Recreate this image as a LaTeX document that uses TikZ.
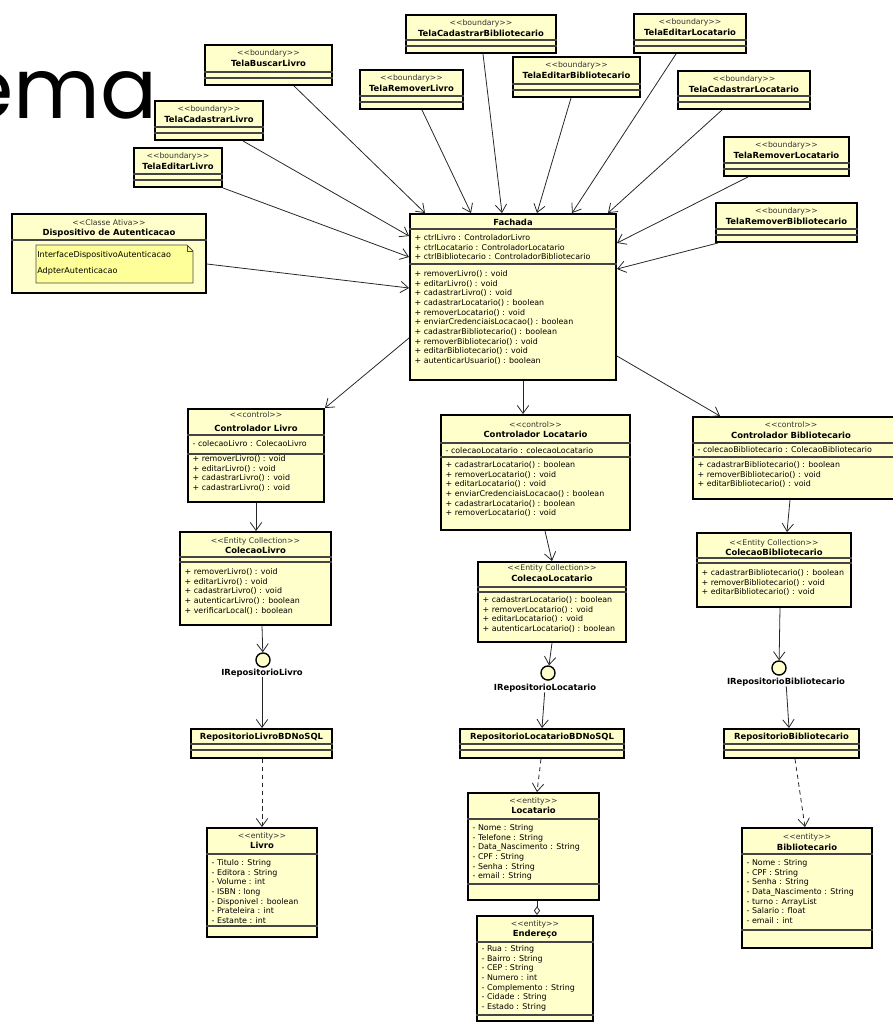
\documentclass[tikz,border=0pt]{standalone}
\usepackage{fontspec}
\setmainfont{DejaVu Sans}
\newfontfamily\titlefont{Poppins}
\usetikzlibrary{arrows.meta,fit,positioning}

\definecolor{umlyellow}{HTML}{FFFFCC}
\definecolor{noteyellow}{HTML}{FFFF99}
\definecolor{compgray}{HTML}{444444}

% stereotype brackets
\newcommand\guil[1]{<\kern0pt<#1>\kern0pt>}

\tikzset{
  classbox/.style={draw=black, line width=1.1pt, fill=umlyellow, inner sep=0pt},
  compline/.style={draw=compgray, line width=0.6pt},
  stereotxt/.style={font=\fontsize{4.4}{5}\selectfont, text=black!80, inner sep=0pt},
  nametxt/.style={font=\fontsize{4.8}{5.5}\selectfont\bfseries, inner sep=0pt},
  membertxt/.style={font=\fontsize{4.5}{5.47}\selectfont, align=left, anchor=north west, inner sep=0pt, xshift=3pt},
  notebox/.style={draw=black!70, line width=0.5pt, fill=noteyellow},
  notetxt/.style={font=\fontsize{4.6}{5.47}\selectfont, anchor=west, inner sep=0pt},
  iface/.style={circle, draw=black, line width=0.8pt, fill=umlyellow, minimum size=8pt, inner sep=0pt},
  usearrow/.style={draw=black!85, line width=0.45pt, -{Straight Barb[length=4.5pt,width=6.5pt]}},
  deparrow/.style={usearrow, dash pattern=on 2.5pt off 2pt},
  aggreg/.style={draw=black!85, line width=0.45pt, -{Diamond[open, length=5pt, width=3.5pt]}}
}

% class rectangle from corner to corner
\newcommand\umlbox[5]{\node[classbox, fit={(#2,#3) (#4,#5)}] (#1) {};}
% compartment line across a box
\newcommand\compline[2]{\draw[compline] (#1.west |- 0,#2) -- (#1.east |- 0,#2);}
% boundary class with two empty compartments
\newcommand\boundary[6]{%
  \umlbox{#1}{#2}{#3}{#4}{#5}
  \node[stereotxt] (#1-st) at (#1.north |- 0,#3+8) {\guil{boundary}};
  \node[nametxt] (#1-nm) at (#1.north |- 0,#3+18) {#6};
  \compline{#1}{#5-13}
  \compline{#1}{#5-7}}

\begin{document}
\begin{tikzpicture}[x=0.02cm, y=-0.02cm]

    \useasboundingbox (0,0) rectangle (893,1022);

    % Title (cut at the left edge)
    \node[anchor=base east, inner sep=0pt, font=\titlefont\fontsize{48}{48}\selectfont] (titulo) at (158,118) {ema};

    % Boundary classes
    \boundary{tBuscarLivro}{205}{45}{332}{85}{TelaBuscarLivro}
    \boundary{tCadastrarLivro}{155}{101}{263}{140}{TelaCadastrarLivro}
    \boundary{tEditarLivro}{134}{148}{222}{187}{TelaEditarLivro}
    \boundary{tRemoverLivro}{360}{70}{463}{109}{TelaRemoverLivro}
    \boundary{tCadastrarBib}{406}{15}{556}{53}{TelaCadastrarBibliotecario}
    \boundary{tEditarBib}{513}{57}{640}{97}{TelaEditarBibliotecario}
    \boundary{tEditarLoc}{634}{14}{746}{53}{TelaEditarLocatario}
    \boundary{tCadastrarLoc}{678}{71}{810}{109}{TelaCadastrarLocatario}
    \boundary{tRemoverLoc}{724}{137}{849}{176}{TelaRemoverLocatario}
    \boundary{tRemoverBib}{716}{203}{857}{242}{TelaRemoverBibliotecario}

    % Active class with its note
    \umlbox{disp}{12}{214}{206}{293}
    \node[stereotxt] (disp-st) at (disp.north |- 0,223) {\guil{Classe Ativa}};
    \node[nametxt] (disp-nm) at (disp.north |- 0,233) {Dispositivo de Autenticacao};
    \compline{disp}{240}
    \draw[notebox] (36,245) -- (187,245) -- (193,251) -- (193,283) -- (36,283) -- cycle;
    \draw[notebox, fill=none] (187,245) -- (187,251) -- (193,251);
    \node[notetxt] (disp-if) at (37,255) {InterfaceDispositivoAutenticacao};
    \node[notetxt] (disp-ad) at (37,271) {AdpterAutenticacao};

    % Fachada
    \umlbox{fach}{410}{214}{616}{380}
    \node[nametxt] (fach-nm) at (fach.north |- 0,222) {Fachada};
    \compline{fach}{229}
    \node[membertxt] (fach-at) at (fach.west |- 0,234.4) {+ ctrlLivro : ControladorLivro\\+ ctrlLocatario : ControladorLocatario\\+ ctrlBibliotecario : ControladorBibliotecario};
    \compline{fach}{264}
    \node[membertxt] (fach-op) at (fach.west |- 0,270.4) {+ removerLivro() : void\\+ editarLivro() : void\\+ cadastrarLivro() : void\\+ cadastrarLocatario() : boolean\\+ removerLocatario() : void\\+ enviarCredenciaisLocacao() : boolean\\+ cadastrarBibliotecario() : boolean\\+ removerBibliotecario() : void\\+ editarBibliotecario() : void\\+ autenticarUsuario() : boolean};

    % Controlador Livro
    \umlbox{ctrlLivro}{188}{409}{324}{502}
    \node[stereotxt] (ctrlLivro-st) at (ctrlLivro.north |- 0,415) {\guil{control}};
    \node[nametxt] (ctrlLivro-nm) at (ctrlLivro.north |- 0,428) {Controlador Livro};
    \compline{ctrlLivro}{435}
    \node[membertxt] (ctrlLivro-at) at (ctrlLivro.west |- 0,440.4) {- colecaoLivro : ColecaoLivro};
    \compline{ctrlLivro}{454}
    \node[membertxt] (ctrlLivro-op) at (ctrlLivro.west |- 0,455.4) {+ removerLivro() : void\\+ editarLivro() : void\\+ cadastrarLivro() : void\\+ cadastrarLivro() : void};

    % ColecaoLivro
    \umlbox{colLivro}{180}{532}{331}{625}
    \node[stereotxt] (colLivro-st) at (colLivro.north |- 0,541) {\guil{Entity Collection}};
    \node[nametxt] (colLivro-nm) at (colLivro.north |- 0,550) {ColecaoLivro};
    \compline{colLivro}{557}
    \compline{colLivro}{562}
    \node[membertxt] (colLivro-op) at (colLivro.west |- 0,568.4) {+ removerLivro() : void\\+ editarLivro() : void\\+ cadastrarLivro() : void\\+ autenticarLivro() : boolean\\+ verificarLocal() : boolean};

    % Controlador Locatario
    \umlbox{ctrlLoc}{441}{415}{630}{530}
    \node[stereotxt] (ctrlLoc-st) at (ctrlLoc.north |- 0,425) {\guil{control}};
    \node[nametxt] (ctrlLoc-nm) at (ctrlLoc.north |- 0,434) {Controlador Locatario};
    \compline{ctrlLoc}{443}
    \node[membertxt] (ctrlLoc-at) at (ctrlLoc.west |- 0,447.4) {- colecaoLocatario : colecaoLocatario};
    \compline{ctrlLoc}{457}
    \node[membertxt] (ctrlLoc-op) at (ctrlLoc.west |- 0,461.4) {+ cadastrarLocatario() : boolean\\+ removerLocatario() : void\\+ editarLocatario() : void\\+ enviarCredenciaisLocacao() : boolean\\+ cadastrarLocatario() : boolean\\+ removerLocatario() : void};

    % ColecaoLocatario
    \umlbox{colLoc}{478}{562}{626}{642}
    \node[stereotxt] (colLoc-st) at (colLoc.north |- 0,568) {\guil{Entity Collection}};
    \node[nametxt] (colLoc-nm) at (colLoc.north |- 0,578) {ColecaoLocatario};
    \compline{colLoc}{587}
    \compline{colLoc}{592}
    \node[membertxt] (colLoc-op) at (colLoc.west |- 0,596.4) {+ cadastrarLocatario() : boolean\\+ removerLocatario() : void\\+ editarLocatario() : void\\+ autenticarLocatario() : boolean};

    % Controlador Bibliotecario (runs past the right edge)
    \umlbox{ctrlBib}{693}{417}{900}{499}
    \node[stereotxt] (ctrlBib-st) at (791,425) {\guil{control}};
    \node[nametxt] (ctrlBib-nm) at (791,435) {Controlador Bibliotecario};
    \compline{ctrlBib}{443}
    \node[membertxt] (ctrlBib-at) at (ctrlBib.west |- 0,446.4) {- colecaoBibliotecario : ColecaoBibliotecario};
    \compline{ctrlBib}{457}
    \node[membertxt] (ctrlBib-op) at (ctrlBib.west |- 0,461.4) {+ cadastrarBibliotecario() : boolean\\+ removerBibliotecario() : void\\+ editarBibliotecario() : void};

    % ColecaoBibliotecario
    \umlbox{colBib}{697}{533}{851}{607}
    \node[stereotxt] (colBib-st) at (colBib.north |- 0,543) {\guil{Entity Collection}};
    \node[nametxt] (colBib-nm) at (colBib.north |- 0,552) {ColecaoBibliotecario};
    \compline{colBib}{558}
    \compline{colBib}{563}
    \node[membertxt] (colBib-op) at (colBib.west |- 0,569.4) {+ cadastrarBibliotecario() : boolean\\+ removerBibliotecario() : void\\+ editarBibliotecario() : void};

    % Interfaces (lollipops)
    \node[iface] (iLivro) at (263,660) {};
    \node[nametxt] (iLivro-lb) at (262,673) {IRepositorioLivro};
    \node[iface] (iLoc) at (548,673) {};
    \node[nametxt] (iLoc-lb) at (545,688) {IRepositorioLocatario};
    \node[iface] (iBib) at (779,668) {};
    \node[nametxt] (iBib-lb) at (786,682) {IRepositorioBibliotecario};

    % Repositories
    \umlbox{repLivro}{191}{729}{332}{758}
    \node[nametxt] (repLivro-nm) at (repLivro.north |- 0,737) {RepositorioLivroBDNoSQL};
    \compline{repLivro}{744}
    \compline{repLivro}{750}
    \umlbox{repLoc}{460}{729}{624}{758}
    \node[nametxt] (repLoc-nm) at (repLoc.north |- 0,737) {RepositorioLocatarioBDNoSQL};
    \compline{repLoc}{744}
    \compline{repLoc}{750}
    \umlbox{repBib}{724}{729}{859}{758}
    \node[nametxt] (repBib-nm) at (repBib.north |- 0,737) {RepositorioBibliotecario};
    \compline{repBib}{744}
    \compline{repBib}{750}

    % Entities
    \umlbox{livro}{207}{828}{317}{937}
    \node[stereotxt] (livro-st) at (livro.north |- 0,836) {\guil{entity}};
    \node[nametxt] (livro-nm) at (livro.north |- 0,845) {Livro};
    \compline{livro}{854}
    \node[membertxt] (livro-at) at (livro.west |- 0,859.4) {- Titulo : String\\- Editora : String\\- Volume : int\\- ISBN : long\\- Disponivel : boolean\\- Prateleira : int\\- Estante : int};
    \compline{livro}{926}

    \umlbox{locatario}{468}{793}{599}{900}
    \node[stereotxt] (locatario-st) at (locatario.north |- 0,801) {\guil{entity}};
    \node[nametxt] (locatario-nm) at (locatario.north |- 0,810) {Locatario};
    \compline{locatario}{819}
    \node[membertxt] (locatario-at) at (locatario.west |- 0,824.4) {- Nome : String\\- Telefone : String\\- Data\_Nascimento : String\\- CPF : String\\- Senha : String\\- email : String};
    \compline{locatario}{884}

    \umlbox{endereco}{477}{916}{593}{1021}
    \node[stereotxt] (endereco-st) at (endereco.north |- 0,924) {\guil{entity}};
    \node[nametxt] (endereco-nm) at (endereco.north |- 0,934) {Endereço};
    \compline{endereco}{942}
    \node[membertxt] (endereco-at) at (endereco.west |- 0,945.4) {- Rua : String\\- Bairro : String\\- CEP : String\\- Numero : int\\- Complemento : String\\- Cidade : String\\- Estado : String};
    \compline{endereco}{1015}

    \umlbox{bibliotecario}{742}{828}{872}{948}
    \node[stereotxt] (bibliotecario-st) at (bibliotecario.north |- 0,837) {\guil{entity}};
    \node[nametxt] (bibliotecario-nm) at (bibliotecario.north |- 0,847) {Bibliotecario};
    \compline{bibliotecario}{854}
    \node[membertxt] (bibliotecario-at) at (bibliotecario.west |- 0,859.4) {- Nome : String\\- CPF : String\\- Senha : String\\- Data\_Nascimento : String\\- turno : ArrayList\\- Salario : float\\- email : int};
    \compline{bibliotecario}{930}

    % Telas -> Fachada
    \draw[usearrow] (tEditarLivro.south east) -- (fach.west |- 0,257);
    \draw[usearrow] (tCadastrarLivro.south -| 243,0) -- (fach.west |- 0,236);
    \draw[usearrow] (tBuscarLivro.south -| 294,0) -- (fach.north -| 425,0);
    \draw[usearrow] (tRemoverLivro.south -| 422,0) -- (fach.north -| 471,0);
    \draw[usearrow] (tCadastrarBib.south -| 483,0) -- (fach.north -| 502,0);
    \draw[usearrow] (tEditarBib.south -| 571,0) -- (fach.north -| 537,0);
    \draw[usearrow] (tEditarLoc.south -| 676,0) -- (fach.north -| 572,0);
    \draw[usearrow] (tCadastrarLoc.south -| 722,0) -- (fach.north -| 608,0);
    \draw[usearrow] (tRemoverLoc.south -| 748,0) -- (fach.east |- 0,243);
    \draw[usearrow] (tRemoverBib.south -| 718,0) -- (fach.east |- 0,269);
    \draw[usearrow] (disp.east |- 0,264) -- (fach.west |- 0,288);

    % Fachada -> controladores
    \draw[usearrow] (fach.west |- 0,338) -- (ctrlLivro.north east);
    \draw[usearrow] (fach.south -| 523,0) -- (ctrlLoc.north -| 523,0);
    \draw[usearrow] (fach.east |- 0,356) -- (ctrlBib.north -| 720,0);

    % controladores -> colecoes
    \draw[usearrow] (ctrlLivro.south -| 256,0) -- (colLivro.north -| 256,0);
    \draw[usearrow] (ctrlLoc.south -| 545,0) -- (colLoc.north -| 552,0);
    \draw[usearrow] (ctrlBib.south -| 790,0) -- (colBib.north -| 787,0);

    % colecoes -> interfaces
    \draw[usearrow] (colLivro.south -| 262,0) -- (iLivro);
    \draw[usearrow] (colLoc.south -| 552,0) -- (iLoc);
    \draw[usearrow] (colBib.south -| 780,0) -- (iBib);

    % interfaces -> repositorios
    \draw[usearrow] (iLivro-lb) -- (repLivro.north -| 262,0);
    \draw[usearrow] (iLoc-lb) -- (repLoc.north -| 542,0);
    \draw[usearrow] (iBib-lb) -- (repBib.north -| 789,0);

    % repositorios -> entidades
    \draw[deparrow] (repLivro.south -| 262,0) -- (livro.north -| 262,0);
    \draw[deparrow] (repLoc.south -| 541,0) -- (locatario.north -| 537,0);
    \draw[deparrow] (repBib.south -| 795,0) -- (bibliotecario.north -| 805,0);

    % Locatario <>- Endereco
    \draw[aggreg] (locatario.south -| 537,0) -- (endereco.north -| 537,0);

\end{tikzpicture}
\end{document}
